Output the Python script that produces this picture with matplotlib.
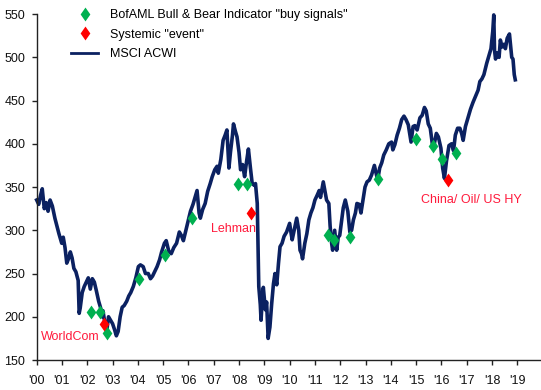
import matplotlib
matplotlib.use("Agg")
import matplotlib.pyplot as plt
from matplotlib.lines import Line2D
from matplotlib import font_manager

_installed = {f.name for f in font_manager.fontManager.ttflist}
_font = next((n for n in ['Liberation Sans Narrow', 'Arial Narrow', 'Liberation Sans', 'Arial']
              if n in _installed), 'DejaVu Sans')
_narrow = 'Narrow' in _font
plt.rcParams['font.family'] = [_font, 'DejaVu Sans']
FS = 10.5 if _narrow else 9.0

# MSCI ACWI (decimal year, index level)
acwi_dates = [
    2000.00, 2000.08, 2000.15, 2000.22, 2000.30, 2000.38, 2000.45, 2000.53, 2000.62, 2000.72,
    2000.80, 2000.88, 2000.99, 2001.05, 2001.12, 2001.19, 2001.27, 2001.33, 2001.40, 2001.47,
    2001.55, 2001.64, 2001.68, 2001.72, 2001.80, 2001.88, 2001.96, 2002.04, 2002.12, 2002.20,
    2002.28, 2002.36, 2002.45, 2002.53, 2002.57, 2002.62, 2002.70, 2002.78, 2002.84, 2002.92,
    2003.00, 2003.08, 2003.15, 2003.22, 2003.30, 2003.38, 2003.46, 2003.56, 2003.64, 2003.72,
    2003.82, 2003.92, 2004.02, 2004.10, 2004.21, 2004.30, 2004.41, 2004.50, 2004.58, 2004.66,
    2004.76, 2004.86, 2004.94, 2005.05, 2005.12, 2005.22, 2005.32, 2005.42, 2005.53, 2005.64,
    2005.72, 2005.80, 2005.90, 2006.00, 2006.08, 2006.18, 2006.28, 2006.34, 2006.42, 2006.47,
    2006.56, 2006.66, 2006.76, 2006.86, 2006.94, 2007.04, 2007.13, 2007.18, 2007.28, 2007.37,
    2007.45, 2007.52, 2007.60, 2007.66, 2007.74, 2007.78, 2007.86, 2007.92, 2008.00, 2008.06,
    2008.14, 2008.22, 2008.30, 2008.37, 2008.45, 2008.52, 2008.60, 2008.65, 2008.72, 2008.78,
    2008.84, 2008.87, 2008.92, 2008.96, 2009.04, 2009.09, 2009.15, 2009.22, 2009.29, 2009.36,
    2009.42, 2009.49, 2009.56, 2009.62, 2009.70, 2009.78, 2009.88, 2010.00, 2010.06, 2010.10,
    2010.18, 2010.28, 2010.36, 2010.41, 2010.47, 2010.51, 2010.60, 2010.68, 2010.76, 2010.84,
    2010.92, 2011.00, 2011.08, 2011.17, 2011.22, 2011.33, 2011.40, 2011.46, 2011.55, 2011.60,
    2011.66, 2011.70, 2011.78, 2011.86, 2011.92, 2011.98, 2012.05, 2012.12, 2012.20, 2012.30,
    2012.38, 2012.45, 2012.52, 2012.60, 2012.66, 2012.75, 2012.82, 2012.90, 2012.98, 2013.06,
    2013.15, 2013.24, 2013.35, 2013.42, 2013.48, 2013.56, 2013.64, 2013.72, 2013.82, 2013.92,
    2014.03, 2014.08, 2014.16, 2014.25, 2014.34, 2014.43, 2014.52, 2014.60, 2014.69, 2014.80,
    2014.88, 2014.95, 2015.04, 2015.15, 2015.24, 2015.33, 2015.40, 2015.48, 2015.56, 2015.64,
    2015.70, 2015.80, 2015.88, 2015.98, 2016.05, 2016.12, 2016.20, 2016.30, 2016.40, 2016.48,
    2016.55, 2016.64, 2016.73, 2016.80, 2016.86, 2016.95, 2017.05, 2017.15, 2017.25, 2017.35,
    2017.45, 2017.52, 2017.60, 2017.68, 2017.79, 2017.88, 2017.96, 2018.03, 2018.07, 2018.10,
    2018.14, 2018.20, 2018.28, 2018.33, 2018.40, 2018.47, 2018.53, 2018.60, 2018.69, 2018.74,
    2018.78, 2018.83, 2018.88, 2018.92,
]
acwi_values = [
    335, 330, 340, 348, 325, 332, 322, 335, 328, 314,
    305, 296, 285, 292, 280, 262, 268, 275, 268, 256,
    252, 242, 204, 210, 228, 235, 240, 245, 232, 244,
    240, 230, 218, 210, 200, 207, 192, 186, 200, 196,
    192, 185, 178, 183, 200, 211, 213, 218, 224, 228,
    235, 245, 258, 260, 258, 250, 250, 244, 247, 252,
    258, 266, 275, 285, 288, 276, 273, 280, 285, 298,
    294, 288, 300, 312, 322, 330, 340, 346, 320, 314,
    324, 331, 345, 354, 362, 370, 374, 366, 382, 404,
    410, 416, 372, 390, 410, 423, 414, 408, 390, 370,
    376, 362, 380, 394, 372, 354, 352, 354, 331, 235,
    214, 196, 222, 234, 208, 217, 175, 188, 215, 238,
    250, 237, 262, 281, 285, 293, 298, 308, 296, 289,
    300, 314, 300, 277, 273, 267, 285, 296, 312, 320,
    326, 335, 340, 346, 338, 356, 345, 335, 331, 305,
    285, 277, 300, 277, 292, 294, 310, 326, 335, 322,
    298, 300, 312, 320, 331, 330, 320, 335, 350, 356,
    358, 364, 375, 366, 358, 372, 378, 387, 393, 400,
    402, 393, 399, 410, 418, 428, 432, 428, 422, 402,
    420, 421, 416, 430, 433, 442, 438, 423, 418, 400,
    397, 412, 408, 395, 372, 360, 380, 398, 400, 392,
    410, 418, 418, 412, 404, 420, 430, 440, 448, 455,
    462, 472, 475, 480, 493, 502, 510, 530, 549, 508,
    498, 505, 500, 520, 512, 515, 510, 522, 527, 512,
    500, 498, 480, 474,
]

# BofAML Bull & Bear Indicator buy signals
buy_dates = [2002.15, 2002.50, 2002.77, 2004.06, 2005.07, 2006.13, 2007.97, 2008.30,
             2011.53, 2011.75, 2012.38, 2013.48, 2014.99, 2015.68, 2016.03, 2016.57]
buy_values = [205, 206, 181, 244, 271, 314, 354, 354,
              294, 289, 292, 359, 406, 397, 383, 389]

# Systemic events
event_dates = [2002.66, 2008.46, 2016.27]
event_values = [192, 320, 358]
event_labels = ["WorldCom", "Lehman", "China/ Oil/ US HY"]
event_label_pos = [(2001.33, 177), (2007.77, 302), (2017.17, 335)]

year_ticks = list(range(2000, 2020))
year_labels = ["'%02d" % (y % 100) for y in year_ticks]
y_ticks = [150, 200, 250, 300, 350, 400, 450, 500, 550]

navy = '#0B2161'
green = '#00B050'
red = '#FF0000'
diamond = [(0, 1), (0.7, 0), (0, -1), (-0.7, 0), (0, 1)]

fig = plt.figure(figsize=(5.41, 3.90), dpi=100)
ax = fig.add_axes([0.0678, 0.0769, 0.930, 0.887])

ax.plot(acwi_dates, acwi_values, color=navy, lw=2.6, zorder=2, clip_on=False,
        solid_joinstyle='round')
ax.plot(buy_dates, buy_values, linestyle='none', marker=diamond, markersize=10,
        color=green, markeredgewidth=0, zorder=3)
ax.plot(event_dates, event_values, linestyle='none', marker=diamond, markersize=10,
        color=red, markeredgewidth=0, zorder=3)

for lab, (lx, ly) in zip(event_labels, event_label_pos):
    ax.text(lx, ly, lab, color='#FF1A3C', fontsize=FS, ha='center', va='center')

ax.set_xlim(2000, 2019.89)
ax.set_ylim(150, 550)
ax.set_xticks(year_ticks)
ax.set_xticklabels(year_labels)
ax.set_yticks(y_ticks)
for s in ['top', 'right']:
    ax.spines[s].set_visible(False)
for s in ['left', 'bottom']:
    ax.spines[s].set_linewidth(1.0)
    ax.spines[s].set_color('#222222')
ax.tick_params(axis='both', direction='out', length=3.6, width=1.0, color='#222222',
               labelsize=FS, labelcolor='#111111')
ax.tick_params(axis='y', pad=4.5)
ax.tick_params(axis='x', pad=7)

handles = [
    Line2D([], [], linestyle='none', marker=diamond, markersize=10, color=green, markeredgewidth=0),
    Line2D([], [], linestyle='none', marker=diamond, markersize=10, color=red, markeredgewidth=0),
    Line2D([], [], color=navy, lw=2.0),
]
labels = ['BofAML Bull & Bear Indicator "buy signals"', 'Systemic "event"', 'MSCI ACWI']
leg = ax.legend(handles, labels, loc='upper left', bbox_to_anchor=(0.068, 1.015),
                frameon=False, fontsize=FS, handlelength=2.2, handletextpad=0.9,
                labelspacing=0.62, borderaxespad=0, borderpad=0)

fig.savefig('out.png', dpi=100)
